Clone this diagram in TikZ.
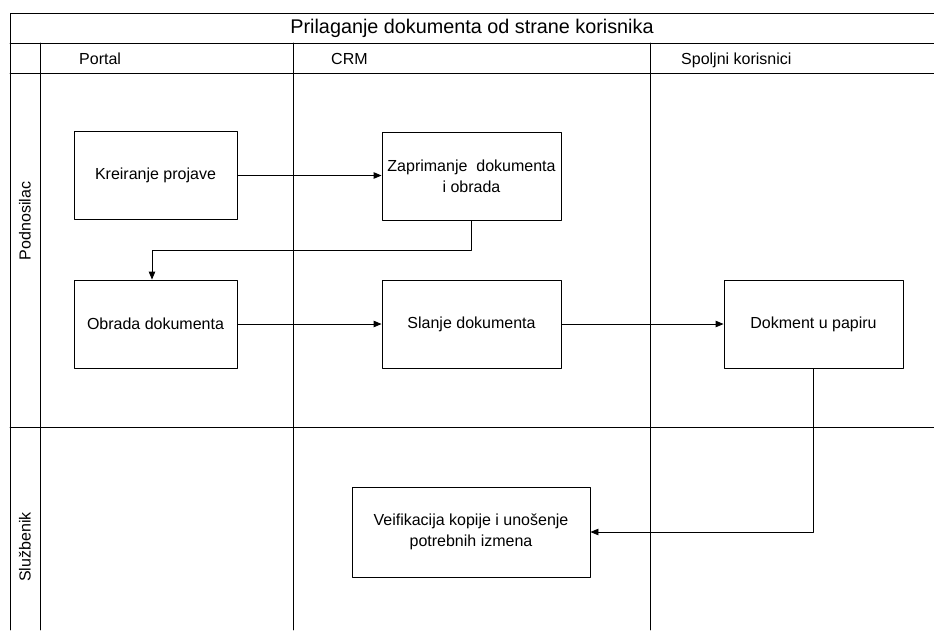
\documentclass[tikz,border=0pt]{standalone}
\usepackage{fontspec}
\setmainfont{Liberation Sans}
\usetikzlibrary{arrows.meta}

\begin{document}
\begin{tikzpicture}[x=1pt,y=-1pt, line cap=round, line join=round]

\tikzset{
  lane/.style={draw=black, line width=0.9pt},
  task/.style={rectangle, draw=black, line width=0.9pt, minimum width=163pt, minimum height=88pt, align=center, inner sep=2pt, font=\fontsize{16}{21}\selectfont},
  flow/.style={draw=black, line width=0.9pt, -{Triangle[length=8pt,width=6.5pt]}},
  hlab/.style={font=\fontsize{16}{19}\selectfont, anchor=base west, inner sep=0pt},
  ttl/.style={font=\fontsize{19.8}{24}\selectfont},
}

\useasboundingbox (0,0) rectangle (934,630);

% lanes
\draw[lane] (10,630) -- (10,13) -- (934,13);
\draw[lane] (10,43) -- (934,43);
\draw[lane] (10,73) -- (934,73);
\draw[lane] (10,427) -- (934,427);
\draw[lane] (40,43) -- (40,630);
\draw[lane] (293,43) -- (293,630);
\draw[lane] (650,43) -- (650,630);

% headers
\node[ttl] (title) at (472,28) {Prilaganje dokumenta od strane korisnika};
\node[hlab] (portal) at (79,64) {Portal};
\node[hlab] (crm) at (331,64) {CRM};
\node[hlab] (spoljni) at (681,64) {Spoljni korisnici};
\node[hlab, anchor=center, rotate=90] (podnosilac) at (25,221) {Podnosilac};
\node[hlab, anchor=center, rotate=90] (sluzbenik) at (25,547) {Službenik};

% tasks
\node[task] (kreiranje) at (155.5,175.5) {Kreiranje projave};
\node[task, minimum width=179pt] (zaprimanje) at (471.5,176) {Zaprimanje\ \ dokumenta\\i obrada};
\node[task] (obrada) at (155.5,324) {Obrada dokumenta};
\node[task, minimum width=179pt] (slanje) at (471.5,324) {Slanje dokumenta};
\node[task, minimum width=179pt] (dokment) at (813.5,324) {Dokment u papiru};
\node[task, minimum width=238pt, minimum height=90pt] (veifikacija) at (471,532) {Veifikacija kopije i unošenje\\potrebnih izmena};

% flows
\coordinate (elbow) at (152,250);
\draw[flow] (kreiranje.east) -- (zaprimanje.west |- kreiranje.east);
\draw[flow] (zaprimanje.south) |- (elbow) -- (elbow |- obrada.north);
\draw[flow] (obrada.east) -- (slanje.west);
\draw[flow] (slanje.east) -- (dokment.west);
\draw[flow] (dokment.south) |- (veifikacija.east);

\end{tikzpicture}
\end{document}
